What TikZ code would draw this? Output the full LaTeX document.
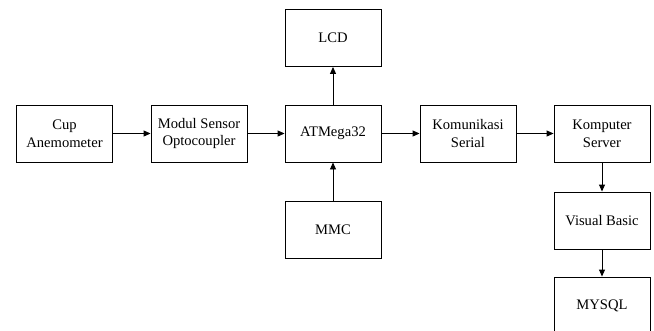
\documentclass[tikz,border=0pt]{standalone}
\usepackage{fontspec}
\setmainfont{Liberation Serif}
\usetikzlibrary{arrows.meta}

\tikzset{
    blok/.style={draw, line width=0.9pt, minimum width=96pt, minimum height=57pt,
        align=center, inner sep=0pt, font=\fontsize{14.6}{17.7}\selectfont},
    panah/.style={-{Triangle[length=7pt,width=6pt]}, line width=0.9pt}
}

\begin{document}
\begin{tikzpicture}[x=1pt,y=-1pt]
    \useasboundingbox (0,0) rectangle (654,330);
    \node[blok] (CA) at (64.5,133.5) {Cup\\Anemometer};
    \node[blok] (MS) at (199,133.5) {Modul Sensor\\Optocoupler};
    \node[blok] (AT) at (333,133.5) {ATMega32};
    \node[blok] (LCD) at (333,38) {LCD};
    \node[blok] (MMC) at (333,229.5) {MMC};
    \node[blok] (KS) at (468,133.5) {Komunikasi\\Serial};
    \node[blok] (KP) at (602,133.5) {Komputer\\Server};
    \node[blok] (VB) at (602,220.5) {Visual Basic};
    \node[blok] (DB) at (602,305.5) {MYSQL};
    \draw[panah] (CA) -- (MS);
    \draw[panah] (MS) -- (AT);
    \draw[panah] (AT) -- (LCD);
    \draw[panah] (MMC) -- (AT);
    \draw[panah] (AT) -- (KS);
    \draw[panah] (KS) -- (KP);
    \draw[panah] (KP) -- (VB);
    \draw[panah] (VB) -- (DB);
\end{tikzpicture}
\end{document}
